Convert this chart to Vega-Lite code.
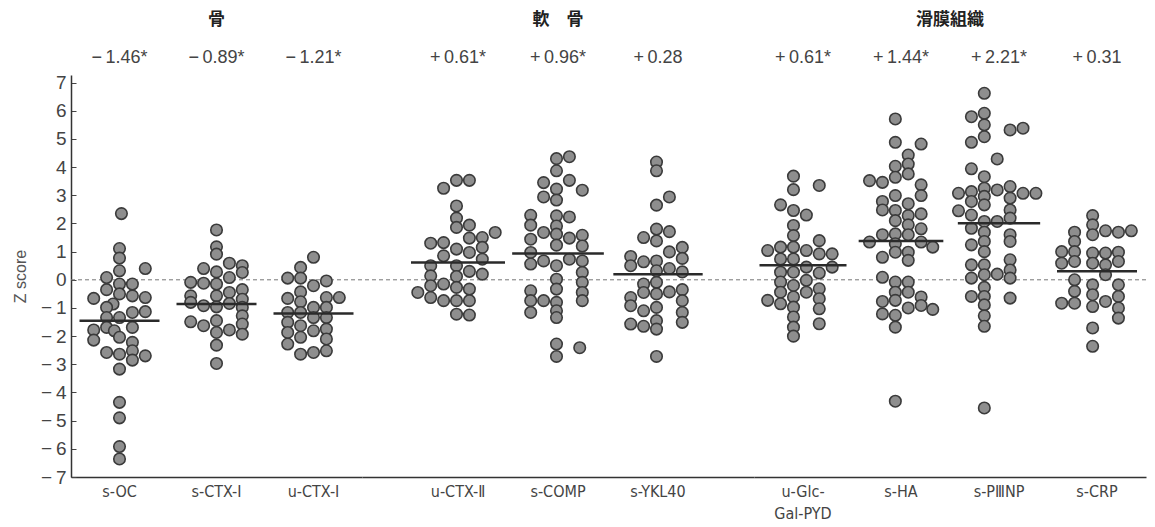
{
  "$schema": "https://vega.github.io/schema/vega-lite/v6.json",
  "background": "white",
  "padding": {"left": 12, "top": 11, "right": 0, "bottom": 0},
  "spacing": 0,
  "bounds": "flush",
  "config": {
    "view": {"stroke": null},
    "font": "Liberation Sans",
    "title": {"fontSize": 17, "fontWeight": "bold", "color": "#222", "font": "Noto Sans CJK JP", "offset": 19, "anchor": "middle"},
    "axis": {"grid": false},
    "axisY": {"titleFontSize": 16, "titleFontWeight": "normal", "titleColor": "#555", "titlePadding": 12, "labelFontSize": 19, "labelColor": "#444", "tickSize": -5, "tickColor": "#444", "labelPadding": 10, "domainColor": "#333", "domainWidth": 1.5},
    "tick": {"opacity": 1}
  },
  "datasets": {
    "dots": [
      {"c":"s-OC","o":0.15,"v":2.35},{"c":"s-OC","o":0,"v":1.11},{"c":"s-OC","o":0,"v":0.77},{"c":"s-OC","o":2,"v":0.40},{"c":"s-OC","o":0,"v":0.32},{"c":"s-OC","o":-1,"v":0.08},{"c":"s-OC","o":0,"v":-0.15},{"c":"s-OC","o":1,"v":-0.15},{"c":"s-OC","o":-1,"v":-0.35},{"c":"s-OC","o":-2,"v":-0.66},{"c":"s-OC","o":0,"v":-0.5},{"c":"s-OC","o":1,"v":-0.57},{"c":"s-OC","o":2,"v":-0.63},{"c":"s-OC","o":-0.5,"v":-0.86},{"c":"s-OC","o":-1,"v":-0.98},{"c":"s-OC","o":2,"v":-1.13},{"c":"s-OC","o":1,"v":-1.16},{"c":"s-OC","o":0,"v":-1.34},{"c":"s-OC","o":-1,"v":-1.34},{"c":"s-OC","o":-2,"v":-1.78},{"c":"s-OC","o":-2,"v":-2.14},{"c":"s-OC","o":-1,"v":-1.69},{"c":"s-OC","o":-0.4,"v":-1.81},{"c":"s-OC","o":1,"v":-1.69},{"c":"s-OC","o":0,"v":-2.04},{"c":"s-OC","o":1,"v":-2.22},{"c":"s-OC","o":-1,"v":-2.58},{"c":"s-OC","o":0,"v":-2.64},{"c":"s-OC","o":1,"v":-2.52},{"c":"s-OC","o":2,"v":-2.7},{"c":"s-OC","o":1,"v":-2.85},{"c":"s-OC","o":0,"v":-3.17},{"c":"s-OC","o":0,"v":-4.35},{"c":"s-OC","o":0,"v":-4.9},{"c":"s-OC","o":0,"v":-5.92},{"c":"s-OC","o":0,"v":-6.36},
      {"c":"s-CTX-Ⅰ","o":0,"v":1.77},{"c":"s-CTX-Ⅰ","o":0,"v":1.17},{"c":"s-CTX-Ⅰ","o":0,"v":0.91},{"c":"s-CTX-Ⅰ","o":1,"v":0.59},{"c":"s-CTX-Ⅰ","o":2,"v":0.5},{"c":"s-CTX-Ⅰ","o":-1,"v":0.4},{"c":"s-CTX-Ⅰ","o":0,"v":0.28},{"c":"s-CTX-Ⅰ","o":2,"v":0.26},{"c":"s-CTX-Ⅰ","o":1,"v":0.08},{"c":"s-CTX-Ⅰ","o":-2,"v":-0.09},{"c":"s-CTX-Ⅰ","o":-1,"v":-0.12},{"c":"s-CTX-Ⅰ","o":0,"v":-0.15},{"c":"s-CTX-Ⅰ","o":2,"v":-0.35},{"c":"s-CTX-Ⅰ","o":1,"v":-0.45},{"c":"s-CTX-Ⅰ","o":-2,"v":-0.57},{"c":"s-CTX-Ⅰ","o":0,"v":-0.57},{"c":"s-CTX-Ⅰ","o":2,"v":-0.69},{"c":"s-CTX-Ⅰ","o":-2,"v":-0.8},{"c":"s-CTX-Ⅰ","o":-1,"v":-0.92},{"c":"s-CTX-Ⅰ","o":0,"v":-0.96},{"c":"s-CTX-Ⅰ","o":1,"v":-0.84},{"c":"s-CTX-Ⅰ","o":2,"v":-0.98},{"c":"s-CTX-Ⅰ","o":2,"v":-1.28},{"c":"s-CTX-Ⅰ","o":-2,"v":-1.49},{"c":"s-CTX-Ⅰ","o":-1,"v":-1.63},{"c":"s-CTX-Ⅰ","o":0,"v":-1.45},{"c":"s-CTX-Ⅰ","o":1,"v":-1.78},{"c":"s-CTX-Ⅰ","o":2,"v":-1.57},{"c":"s-CTX-Ⅰ","o":0,"v":-1.87},{"c":"s-CTX-Ⅰ","o":2,"v":-1.93},{"c":"s-CTX-Ⅰ","o":0,"v":-2.32},{"c":"s-CTX-Ⅰ","o":0,"v":-2.97},
      {"c":"u-CTX-Ⅰ","o":0,"v":0.8},{"c":"u-CTX-Ⅰ","o":-1,"v":0.44},{"c":"u-CTX-Ⅰ","o":-2,"v":0.06},{"c":"u-CTX-Ⅰ","o":-1,"v":0.06},{"c":"u-CTX-Ⅰ","o":1,"v":-0.04},{"c":"u-CTX-Ⅰ","o":0,"v":-0.21},{"c":"u-CTX-Ⅰ","o":-1,"v":-0.43},{"c":"u-CTX-Ⅰ","o":2,"v":-0.63},{"c":"u-CTX-Ⅰ","o":-2,"v":-0.66},{"c":"u-CTX-Ⅰ","o":1,"v":-0.63},{"c":"u-CTX-Ⅰ","o":-1,"v":-0.78},{"c":"u-CTX-Ⅰ","o":0,"v":-0.98},{"c":"u-CTX-Ⅰ","o":1,"v":-0.98},{"c":"u-CTX-Ⅰ","o":-2,"v":-1.16},{"c":"u-CTX-Ⅰ","o":-1,"v":-1.16},{"c":"u-CTX-Ⅰ","o":0,"v":-1.34},{"c":"u-CTX-Ⅰ","o":1,"v":-1.34},{"c":"u-CTX-Ⅰ","o":-2,"v":-1.51},{"c":"u-CTX-Ⅰ","o":-1,"v":-1.63},{"c":"u-CTX-Ⅰ","o":0,"v":-1.81},{"c":"u-CTX-Ⅰ","o":1,"v":-1.75},{"c":"u-CTX-Ⅰ","o":-2,"v":-1.87},{"c":"u-CTX-Ⅰ","o":-1,"v":-2.04},{"c":"u-CTX-Ⅰ","o":1,"v":-2.1},{"c":"u-CTX-Ⅰ","o":-2,"v":-2.28},{"c":"u-CTX-Ⅰ","o":-1,"v":-2.64},{"c":"u-CTX-Ⅰ","o":0,"v":-2.58},{"c":"u-CTX-Ⅰ","o":1,"v":-2.52},
      {"c":"u-CTX-Ⅱ","o":-1,"v":3.25},{"c":"u-CTX-Ⅱ","o":0,"v":3.53},{"c":"u-CTX-Ⅱ","o":1,"v":3.53},{"c":"u-CTX-Ⅱ","o":0,"v":2.62},{"c":"u-CTX-Ⅱ","o":0,"v":2.19},{"c":"u-CTX-Ⅱ","o":0,"v":1.86},{"c":"u-CTX-Ⅱ","o":1,"v":1.94},{"c":"u-CTX-Ⅱ","o":3,"v":1.68},{"c":"u-CTX-Ⅱ","o":-2,"v":1.3},{"c":"u-CTX-Ⅱ","o":-1,"v":1.32},{"c":"u-CTX-Ⅱ","o":2,"v":1.5},{"c":"u-CTX-Ⅱ","o":1,"v":1.48},{"c":"u-CTX-Ⅱ","o":0,"v":1.09},{"c":"u-CTX-Ⅱ","o":2,"v":1.15},{"c":"u-CTX-Ⅱ","o":-1,"v":0.85},{"c":"u-CTX-Ⅱ","o":1,"v":0.97},{"c":"u-CTX-Ⅱ","o":2,"v":0.73},{"c":"u-CTX-Ⅱ","o":-2,"v":0.5},{"c":"u-CTX-Ⅱ","o":0,"v":0.5},{"c":"u-CTX-Ⅱ","o":1,"v":0.3},{"c":"u-CTX-Ⅱ","o":2,"v":0.2},{"c":"u-CTX-Ⅱ","o":-2,"v":0.14},{"c":"u-CTX-Ⅱ","o":0,"v":0.12},{"c":"u-CTX-Ⅱ","o":-2,"v":-0.21},{"c":"u-CTX-Ⅱ","o":-1,"v":-0.15},{"c":"u-CTX-Ⅱ","o":0,"v":-0.27},{"c":"u-CTX-Ⅱ","o":1,"v":-0.33},{"c":"u-CTX-Ⅱ","o":-3,"v":-0.45},{"c":"u-CTX-Ⅱ","o":-2,"v":-0.63},{"c":"u-CTX-Ⅱ","o":-1,"v":-0.74},{"c":"u-CTX-Ⅱ","o":0,"v":-0.74},{"c":"u-CTX-Ⅱ","o":1,"v":-0.74},{"c":"u-CTX-Ⅱ","o":0,"v":-1.22},{"c":"u-CTX-Ⅱ","o":1,"v":-1.25},
      {"c":"s-COMP","o":0,"v":4.3},{"c":"s-COMP","o":1,"v":4.37},{"c":"s-COMP","o":0,"v":3.87},{"c":"s-COMP","o":1,"v":3.53},{"c":"s-COMP","o":-1,"v":3.45},{"c":"s-COMP","o":2,"v":3.18},{"c":"s-COMP","o":0,"v":3.22},{"c":"s-COMP","o":-1,"v":2.94},{"c":"s-COMP","o":0,"v":2.83},{"c":"s-COMP","o":-2,"v":2.29},{"c":"s-COMP","o":0,"v":2.27},{"c":"s-COMP","o":1,"v":2.23},{"c":"s-COMP","o":-2,"v":1.94},{"c":"s-COMP","o":0,"v":1.91},{"c":"s-COMP","o":-1,"v":1.68},{"c":"s-COMP","o":0,"v":1.62},{"c":"s-COMP","o":2,"v":1.58},{"c":"s-COMP","o":-2,"v":1.44},{"c":"s-COMP","o":1,"v":1.48},{"c":"s-COMP","o":0,"v":1.23},{"c":"s-COMP","o":2,"v":1.2},{"c":"s-COMP","o":-2,"v":0.97},{"c":"s-COMP","o":-1,"v":0.67},{"c":"s-COMP","o":1,"v":0.73},{"c":"s-COMP","o":-2,"v":0.56},{"c":"s-COMP","o":0,"v":0.5},{"c":"s-COMP","o":2,"v":0.67},{"c":"s-COMP","o":2,"v":0.26},{"c":"s-COMP","o":0,"v":0.02},{"c":"s-COMP","o":2,"v":-0.09},{"c":"s-COMP","o":0,"v":-0.33},{"c":"s-COMP","o":-2,"v":-0.39},{"c":"s-COMP","o":2,"v":-0.45},{"c":"s-COMP","o":-2,"v":-0.74},{"c":"s-COMP","o":-1,"v":-0.74},{"c":"s-COMP","o":2,"v":-0.74},{"c":"s-COMP","o":0,"v":-0.8},{"c":"s-COMP","o":0,"v":-1.1},{"c":"s-COMP","o":-2,"v":-1.16},{"c":"s-COMP","o":0,"v":-1.34},{"c":"s-COMP","o":0,"v":-2.28},{"c":"s-COMP","o":0,"v":-2.72},{"c":"s-COMP","o":1.8,"v":-2.41},
      {"c":"s-YKL40","o":0,"v":4.18},{"c":"s-YKL40","o":0,"v":3.87},{"c":"s-YKL40","o":1,"v":2.94},{"c":"s-YKL40","o":0,"v":2.65},{"c":"s-YKL40","o":0,"v":1.8},{"c":"s-YKL40","o":1,"v":1.71},{"c":"s-YKL40","o":-1,"v":1.5},{"c":"s-YKL40","o":0,"v":1.38},{"c":"s-YKL40","o":2,"v":1.15},{"c":"s-YKL40","o":1,"v":0.99},{"c":"s-YKL40","o":-2,"v":0.83},{"c":"s-YKL40","o":-1,"v":0.64},{"c":"s-YKL40","o":0,"v":0.67},{"c":"s-YKL40","o":2,"v":0.76},{"c":"s-YKL40","o":-2,"v":0.5},{"c":"s-YKL40","o":1,"v":0.4},{"c":"s-YKL40","o":2,"v":0.28},{"c":"s-YKL40","o":0,"v":0.32},{"c":"s-YKL40","o":-1,"v":-0.15},{"c":"s-YKL40","o":0,"v":-0.09},{"c":"s-YKL40","o":1,"v":-0.43},{"c":"s-YKL40","o":2,"v":-0.35},{"c":"s-YKL40","o":-1,"v":-0.45},{"c":"s-YKL40","o":0,"v":-0.5},{"c":"s-YKL40","o":-2,"v":-0.63},{"c":"s-YKL40","o":2,"v":-0.74},{"c":"s-YKL40","o":-2,"v":-0.92},{"c":"s-YKL40","o":-1,"v":-1.1},{"c":"s-YKL40","o":0,"v":-0.98},{"c":"s-YKL40","o":2,"v":-1.16},{"c":"s-YKL40","o":-2,"v":-1.57},{"c":"s-YKL40","o":-1,"v":-1.65},{"c":"s-YKL40","o":0,"v":-1.45},{"c":"s-YKL40","o":0,"v":-1.75},{"c":"s-YKL40","o":2,"v":-1.51},{"c":"s-YKL40","o":0,"v":-2.72},
      {"c":"u-Glc-Gal-PYD","o":-0.7,"v":3.68},{"c":"u-Glc-Gal-PYD","o":-0.7,"v":3.2},{"c":"u-Glc-Gal-PYD","o":1.3,"v":3.35},{"c":"u-Glc-Gal-PYD","o":-1.7,"v":2.66},{"c":"u-Glc-Gal-PYD","o":-0.7,"v":2.46},{"c":"u-Glc-Gal-PYD","o":0.3,"v":2.3},{"c":"u-Glc-Gal-PYD","o":-0.7,"v":1.93},{"c":"u-Glc-Gal-PYD","o":-0.7,"v":1.57},{"c":"u-Glc-Gal-PYD","o":-2.7,"v":1.04},{"c":"u-Glc-Gal-PYD","o":-1.7,"v":1.16},{"c":"u-Glc-Gal-PYD","o":-0.7,"v":1.16},{"c":"u-Glc-Gal-PYD","o":0.3,"v":1.04},{"c":"u-Glc-Gal-PYD","o":1.3,"v":1.39},{"c":"u-Glc-Gal-PYD","o":1.3,"v":0.92},{"c":"u-Glc-Gal-PYD","o":2.3,"v":0.92},{"c":"u-Glc-Gal-PYD","o":-1.7,"v":0.74},{"c":"u-Glc-Gal-PYD","o":-0.7,"v":0.74},{"c":"u-Glc-Gal-PYD","o":2.3,"v":0.45},{"c":"u-Glc-Gal-PYD","o":-1.7,"v":0.27},{"c":"u-Glc-Gal-PYD","o":-0.7,"v":0.27},{"c":"u-Glc-Gal-PYD","o":0.3,"v":0.45},{"c":"u-Glc-Gal-PYD","o":1.3,"v":0.24},{"c":"u-Glc-Gal-PYD","o":-1.7,"v":-0.08},{"c":"u-Glc-Gal-PYD","o":-0.7,"v":-0.2},{"c":"u-Glc-Gal-PYD","o":0.3,"v":-0.02},{"c":"u-Glc-Gal-PYD","o":-1.7,"v":-0.44},{"c":"u-Glc-Gal-PYD","o":-0.7,"v":-0.61},{"c":"u-Glc-Gal-PYD","o":0.3,"v":-0.44},{"c":"u-Glc-Gal-PYD","o":1.3,"v":-0.32},{"c":"u-Glc-Gal-PYD","o":-2.7,"v":-0.73},{"c":"u-Glc-Gal-PYD","o":-1.7,"v":-0.85},{"c":"u-Glc-Gal-PYD","o":1.3,"v":-0.67},{"c":"u-Glc-Gal-PYD","o":-0.7,"v":-0.97},{"c":"u-Glc-Gal-PYD","o":1.3,"v":-1.03},{"c":"u-Glc-Gal-PYD","o":-0.7,"v":-1.32},{"c":"u-Glc-Gal-PYD","o":1.3,"v":-1.56},{"c":"u-Glc-Gal-PYD","o":-0.7,"v":-1.68},{"c":"u-Glc-Gal-PYD","o":-0.7,"v":-2.0},
      {"c":"s-HA","o":-0.4,"v":5.71},{"c":"s-HA","o":-0.4,"v":4.88},{"c":"s-HA","o":1.6,"v":4.82},{"c":"s-HA","o":0.6,"v":4.43},{"c":"s-HA","o":0.6,"v":4.11},{"c":"s-HA","o":-0.4,"v":4.03},{"c":"s-HA","o":0.6,"v":3.76},{"c":"s-HA","o":-0.4,"v":3.64},{"c":"s-HA","o":-2.4,"v":3.52},{"c":"s-HA","o":-1.4,"v":3.46},{"c":"s-HA","o":1.6,"v":3.37},{"c":"s-HA","o":-0.4,"v":2.99},{"c":"s-HA","o":1.6,"v":2.99},{"c":"s-HA","o":-1.4,"v":2.78},{"c":"s-HA","o":-1.4,"v":2.48},{"c":"s-HA","o":0.6,"v":2.7},{"c":"s-HA","o":-0.4,"v":2.46},{"c":"s-HA","o":1.6,"v":2.34},{"c":"s-HA","o":0.6,"v":2.28},{"c":"s-HA","o":-0.4,"v":2.1},{"c":"s-HA","o":0.6,"v":1.95},{"c":"s-HA","o":1.6,"v":1.81},{"c":"s-HA","o":-1.4,"v":1.6},{"c":"s-HA","o":-0.4,"v":1.63},{"c":"s-HA","o":0.6,"v":1.6},{"c":"s-HA","o":-2.4,"v":1.34},{"c":"s-HA","o":-0.4,"v":1.28},{"c":"s-HA","o":1.6,"v":1.34},{"c":"s-HA","o":2.5,"v":1.16},{"c":"s-HA","o":-1.4,"v":0.8},{"c":"s-HA","o":-0.4,"v":0.98},{"c":"s-HA","o":0.6,"v":0.98},{"c":"s-HA","o":0.6,"v":0.69},{"c":"s-HA","o":-1.4,"v":0.09},{"c":"s-HA","o":-0.4,"v":-0.08},{"c":"s-HA","o":0.6,"v":-0.08},{"c":"s-HA","o":-0.4,"v":-0.44},{"c":"s-HA","o":0.6,"v":-0.44},{"c":"s-HA","o":1.6,"v":-0.61},{"c":"s-HA","o":-1.4,"v":-0.77},{"c":"s-HA","o":-0.4,"v":-0.73},{"c":"s-HA","o":0.6,"v":-1.0},{"c":"s-HA","o":1.6,"v":-0.91},{"c":"s-HA","o":2.5,"v":-1.05},{"c":"s-HA","o":-1.4,"v":-1.21},{"c":"s-HA","o":-0.4,"v":-1.26},{"c":"s-HA","o":-0.4,"v":-1.68},{"c":"s-HA","o":-0.4,"v":-4.31},
      {"c":"s-PⅢNP","o":-1.1,"v":6.62},{"c":"s-PⅢNP","o":-2.1,"v":5.79},{"c":"s-PⅢNP","o":-1.1,"v":5.91},{"c":"s-PⅢNP","o":-1.1,"v":5.5},{"c":"s-PⅢNP","o":-1.1,"v":5.08},{"c":"s-PⅢNP","o":0.9,"v":5.32},{"c":"s-PⅢNP","o":1.9,"v":5.38},{"c":"s-PⅢNP","o":-2.1,"v":4.88},{"c":"s-PⅢNP","o":-0.1,"v":4.29},{"c":"s-PⅢNP","o":-2.1,"v":3.94},{"c":"s-PⅢNP","o":-1.1,"v":3.66},{"c":"s-PⅢNP","o":-3.1,"v":3.07},{"c":"s-PⅢNP","o":-2.1,"v":3.13},{"c":"s-PⅢNP","o":-1.1,"v":3.25},{"c":"s-PⅢNP","o":-0.1,"v":3.19},{"c":"s-PⅢNP","o":0.9,"v":3.31},{"c":"s-PⅢNP","o":1.9,"v":3.07},{"c":"s-PⅢNP","o":2.9,"v":3.07},{"c":"s-PⅢNP","o":-2.1,"v":2.78},{"c":"s-PⅢNP","o":-1.1,"v":2.96},{"c":"s-PⅢNP","o":0.9,"v":2.9},{"c":"s-PⅢNP","o":-1.1,"v":2.66},{"c":"s-PⅢNP","o":-3.1,"v":2.45},{"c":"s-PⅢNP","o":-2.1,"v":2.3},{"c":"s-PⅢNP","o":0.9,"v":2.48},{"c":"s-PⅢNP","o":-0.1,"v":2.07},{"c":"s-PⅢNP","o":0.9,"v":2.19},{"c":"s-PⅢNP","o":-1.1,"v":2.07},{"c":"s-PⅢNP","o":-2.1,"v":1.83},{"c":"s-PⅢNP","o":-1.1,"v":1.69},{"c":"s-PⅢNP","o":0.9,"v":1.6},{"c":"s-PⅢNP","o":-1.1,"v":1.36},{"c":"s-PⅢNP","o":0.9,"v":1.36},{"c":"s-PⅢNP","o":-2.1,"v":1.24},{"c":"s-PⅢNP","o":-1.1,"v":1.0},{"c":"s-PⅢNP","o":0.9,"v":0.71},{"c":"s-PⅢNP","o":-2.1,"v":0.53},{"c":"s-PⅢNP","o":-1.1,"v":0.53},{"c":"s-PⅢNP","o":0.9,"v":0.35},{"c":"s-PⅢNP","o":-0.1,"v":0.2},{"c":"s-PⅢNP","o":-2.1,"v":0.06},{"c":"s-PⅢNP","o":-1.1,"v":0.18},{"c":"s-PⅢNP","o":0.9,"v":0.06},{"c":"s-PⅢNP","o":-1.1,"v":-0.27},{"c":"s-PⅢNP","o":-2.1,"v":-0.59},{"c":"s-PⅢNP","o":-1.1,"v":-0.59},{"c":"s-PⅢNP","o":0.9,"v":-0.65},{"c":"s-PⅢNP","o":-1.1,"v":-0.89},{"c":"s-PⅢNP","o":-1.1,"v":-1.28},{"c":"s-PⅢNP","o":-1.1,"v":-1.65},{"c":"s-PⅢNP","o":-1.1,"v":-4.55},
      {"c":"s-CRP","o":-0.3,"v":2.28},{"c":"s-CRP","o":-0.3,"v":1.95},{"c":"s-CRP","o":-1.7,"v":1.69},{"c":"s-CRP","o":-0.3,"v":1.6},{"c":"s-CRP","o":0.7,"v":1.74},{"c":"s-CRP","o":1.7,"v":1.69},{"c":"s-CRP","o":2.7,"v":1.74},{"c":"s-CRP","o":-1.7,"v":1.36},{"c":"s-CRP","o":-2.7,"v":1.0},{"c":"s-CRP","o":-1.7,"v":1.0},{"c":"s-CRP","o":-0.3,"v":0.95},{"c":"s-CRP","o":0.7,"v":0.95},{"c":"s-CRP","o":1.7,"v":0.98},{"c":"s-CRP","o":-2.7,"v":0.59},{"c":"s-CRP","o":-1.7,"v":0.65},{"c":"s-CRP","o":-0.3,"v":0.59},{"c":"s-CRP","o":0.7,"v":0.53},{"c":"s-CRP","o":1.7,"v":0.65},{"c":"s-CRP","o":0.7,"v":0.18},{"c":"s-CRP","o":-1.7,"v":0.0},{"c":"s-CRP","o":-0.3,"v":-0.18},{"c":"s-CRP","o":1.7,"v":-0.18},{"c":"s-CRP","o":-1.7,"v":-0.41},{"c":"s-CRP","o":-0.3,"v":-0.53},{"c":"s-CRP","o":1.7,"v":-0.59},{"c":"s-CRP","o":-2.7,"v":-0.83},{"c":"s-CRP","o":-1.7,"v":-0.83},{"c":"s-CRP","o":-0.3,"v":-0.95},{"c":"s-CRP","o":0.7,"v":-0.77},{"c":"s-CRP","o":1.7,"v":-1.0},{"c":"s-CRP","o":1.7,"v":-1.36},{"c":"s-CRP","o":-0.3,"v":-1.71},{"c":"s-CRP","o":-0.3,"v":-2.36}
    ],
    "means": [
      {"c":"s-OC","v":-1.45},{"c":"s-CTX-Ⅰ","v":-0.86},{"c":"u-CTX-Ⅰ","v":-1.2},
      {"c":"u-CTX-Ⅱ","v":0.61},{"c":"s-COMP","v":0.93},{"c":"s-YKL40","v":0.2},
      {"c":"u-Glc-Gal-PYD","v":0.52},{"c":"s-HA","v":1.38},{"c":"s-PⅢNP","v":2.01},{"c":"s-CRP","v":0.3}
    ]
  },
  "hconcat": [
    {
      "width": 291, "height": 402,
      "title": {"text": "骨"},
      "layer": [
        {
          "data": {"values": [{}]},
          "mark": {"type": "rule", "strokeDash": [4, 3], "color": "#777", "strokeWidth": 1},
          "encoding": {"y": {"datum": 0, "type": "quantitative", "scale": {"domain": [-7, 7.27], "nice": false, "zero": false},
                  "axis": {"title": "Z score", "titleFontSize": 16, "values": [-7,-6,-5,-4,-3,-2,-1,0,1,2,3,4,5,6,7], "labelExpr": "datum.value < 0 ? '−\u2009' + abs(datum.value) : datum.label"}}}
        },
        {
          "data": {"name": "dots"},
          "transform": [{"filter": {"field": "c", "oneOf": ["s-OC", "s-CTX-Ⅰ", "u-CTX-Ⅰ"]}}],
          "mark": {"type": "circle", "size": 132, "fill": "#8e8e8e", "stroke": "#3a3a3a", "strokeWidth": 1.6, "opacity": 1},
          "encoding": {
            "x": {"field": "c", "type": "nominal", "scale": {"domain": ["s-OC", "s-CTX-Ⅰ", "u-CTX-Ⅰ"], "paddingInner": 0, "paddingOuter": 0},
                  "axis": {"title": null, "orient": "bottom", "ticks": false, "labelAngle": 0, "labelFontSize": 16, "labelColor": "#444", "labelPadding": 6, "labelFont": "Liberation Sans Narrow, DejaVu Sans Condensed, Roboto Condensed, Liberation Sans, sans-serif", "domainColor": "#333", "domainWidth": 1.5}},
            "xOffset": {"field": "o", "type": "quantitative", "scale": {"domain": [-3.65, 3.65]}},
            "y": {"field": "v", "type": "quantitative", "scale": {"domain": [-7, 7.27], "nice": false, "zero": false},
                  "axis": {"title": "Z score", "titleFontSize": 16, "values": [-7,-6,-5,-4,-3,-2,-1,0,1,2,3,4,5,6,7], "labelExpr": "datum.value < 0 ? '−\u2009' + abs(datum.value) : datum.label"}}
          }
        },
        {
          "data": {"name": "means"},
          "transform": [{"filter": {"field": "c", "oneOf": ["s-OC", "s-CTX-Ⅰ", "u-CTX-Ⅰ"]}}],
          "mark": {"type": "tick", "thickness": 2.5, "color": "#2a2a2a", "size": 80, "opacity": 1},
          "encoding": {
            "x": {"field": "c", "type": "nominal", "scale": {"domain": ["s-OC", "s-CTX-Ⅰ", "u-CTX-Ⅰ"]},
                  "axis": {"title": null, "orient": "top", "ticks": false, "domain": false, "labelAngle": 0, "labelFontSize": 18, "labelColor": "#444", "labelPadding": 9,
                           "labelExpr": "datum.value == 's-OC' ? '−\u20091.46*' : datum.value == 's-CTX-Ⅰ' ? '−\u20090.89*' : '−\u20091.21*'"}},
            "y": {"field": "v", "type": "quantitative",
                  "axis": {"title": "Z score", "titleFontSize": 16, "values": [-7,-6,-5,-4,-3,-2,-1,0,1,2,3,4,5,6,7], "labelExpr": "datum.value < 0 ? '−\u2009' + abs(datum.value) : datum.label"}}
          }
        }
      ],
      "resolve": {"axis": {"x": "independent"}}
    },
    {
      "width": 392, "height": 402,
      "title": {"text": "軟　骨"},
      "layer": [
        {
          "data": {"values": [{}]},
          "mark": {"type": "rule", "strokeDash": [4, 3], "color": "#777", "strokeWidth": 1},
          "encoding": {"y": {"datum": 0, "type": "quantitative", "scale": {"domain": [-7, 7.27], "nice": false, "zero": false}, "axis": null}}
        },
        {
          "data": {"name": "dots"},
          "transform": [{"filter": {"field": "c", "oneOf": ["u-CTX-Ⅱ", "s-COMP", "s-YKL40"]}}],
          "mark": {"type": "circle", "size": 132, "fill": "#8e8e8e", "stroke": "#3a3a3a", "strokeWidth": 1.6, "opacity": 1},
          "encoding": {
            "x": {"field": "c", "type": "nominal", "scale": {"domain": ["u-CTX-Ⅱ", "s-COMP", "s-YKL40"], "paddingInner": 0, "paddingOuter": 0.46},
                  "axis": {"title": null, "orient": "bottom", "ticks": false, "labelAngle": 0, "labelFontSize": 16, "labelColor": "#444", "labelPadding": 6, "labelFont": "Liberation Sans Narrow, DejaVu Sans Condensed, Roboto Condensed, Liberation Sans, sans-serif", "domainColor": "#333", "domainWidth": 1.5}},
            "xOffset": {"field": "o", "type": "quantitative", "scale": {"domain": [-3.76, 3.76]}},
            "y": {"field": "v", "type": "quantitative", "scale": {"domain": [-7, 7.27], "nice": false, "zero": false}, "axis": null}
          }
        },
        {
          "data": {"name": "means"},
          "transform": [{"filter": {"field": "c", "oneOf": ["u-CTX-Ⅱ", "s-COMP", "s-YKL40"]}}],
          "mark": {"type": "tick", "thickness": 2.5, "color": "#2a2a2a", "opacity": 1},
          "encoding": {
            "x": {"field": "c", "type": "nominal", "scale": {"domain": ["u-CTX-Ⅱ", "s-COMP", "s-YKL40"]},
                  "axis": {"title": null, "orient": "top", "ticks": false, "domain": false, "labelAngle": 0, "labelFontSize": 18, "labelColor": "#444", "labelPadding": 9,
                           "labelExpr": "datum.value == 'u-CTX-Ⅱ' ? '+\u20090.61*' : datum.value == 's-COMP' ? '+\u20090.96*' : '+\u20090.28'"}},
            "y": {"field": "v", "type": "quantitative", "axis": null},
            "size": {"field": "c", "type": "nominal", "legend": null, "scale": {"domain": ["u-CTX-Ⅱ", "s-COMP", "s-YKL40"], "range": [94, 80, 79]}}
          }
        }
      ],
      "resolve": {"axis": {"x": "independent"}}
    },
    {
      "width": 392, "height": 402,
      "title": {"text": "滑膜組織"},
      "layer": [
        {
          "data": {"values": [{}]},
          "mark": {"type": "rule", "strokeDash": [4, 3], "color": "#777", "strokeWidth": 1},
          "encoding": {"y": {"datum": 0, "type": "quantitative", "scale": {"domain": [-7, 7.27], "nice": false, "zero": false}, "axis": null}}
        },
        {
          "data": {"name": "dots"},
          "transform": [{"filter": {"field": "c", "oneOf": ["u-Glc-Gal-PYD", "s-HA", "s-PⅢNP", "s-CRP"]}}],
          "mark": {"type": "circle", "size": 132, "fill": "#8e8e8e", "stroke": "#3a3a3a", "strokeWidth": 1.6, "opacity": 1},
          "encoding": {
            "x": {"field": "c", "type": "nominal", "scale": {"domain": ["u-Glc-Gal-PYD", "s-HA", "s-PⅢNP", "s-CRP"], "paddingInner": 0, "paddingOuter": 0},
                  "axis": {"title": null, "orient": "bottom", "ticks": false, "labelAngle": 0, "labelFontSize": 16, "labelColor": "#444", "labelPadding": 6, "labelFont": "Liberation Sans Narrow, DejaVu Sans Condensed, Roboto Condensed, Liberation Sans, sans-serif", "labelLineHeight": 22, "domainColor": "#333", "domainWidth": 1.5,
                           "labelExpr": "datum.value == 'u-Glc-Gal-PYD' ? ['u-Glc-', 'Gal-PYD'] : datum.value"}},
            "xOffset": {"field": "o", "type": "quantitative", "scale": {"domain": [-3.68, 3.68]}},
            "y": {"field": "v", "type": "quantitative", "scale": {"domain": [-7, 7.27], "nice": false, "zero": false}, "axis": null}
          }
        },
        {
          "data": {"name": "means"},
          "transform": [{"filter": {"field": "c", "oneOf": ["u-Glc-Gal-PYD", "s-HA", "s-PⅢNP", "s-CRP"]}}],
          "mark": {"type": "tick", "thickness": 2.5, "color": "#2a2a2a", "opacity": 1},
          "encoding": {
            "x": {"field": "c", "type": "nominal", "scale": {"domain": ["u-Glc-Gal-PYD", "s-HA", "s-PⅢNP", "s-CRP"]},
                  "axis": {"title": null, "orient": "top", "ticks": false, "domain": false, "labelAngle": 0, "labelFontSize": 18, "labelColor": "#444", "labelPadding": 9,
                           "labelExpr": "datum.value == 'u-Glc-Gal-PYD' ? '+\u20090.61*' : datum.value == 's-HA' ? '+\u20091.44*' : datum.value == 's-PⅢNP' ? '+\u20092.21*' : '+\u20090.31'"}},
            "y": {"field": "v", "type": "quantitative", "axis": null},
            "size": {"field": "c", "type": "nominal", "legend": null, "scale": {"domain": ["u-Glc-Gal-PYD", "s-HA", "s-PⅢNP", "s-CRP"], "range": [88, 93, 98, 98]}}
          }
        }
      ],
      "resolve": {"axis": {"x": "independent"}}
    }
  ]
}
